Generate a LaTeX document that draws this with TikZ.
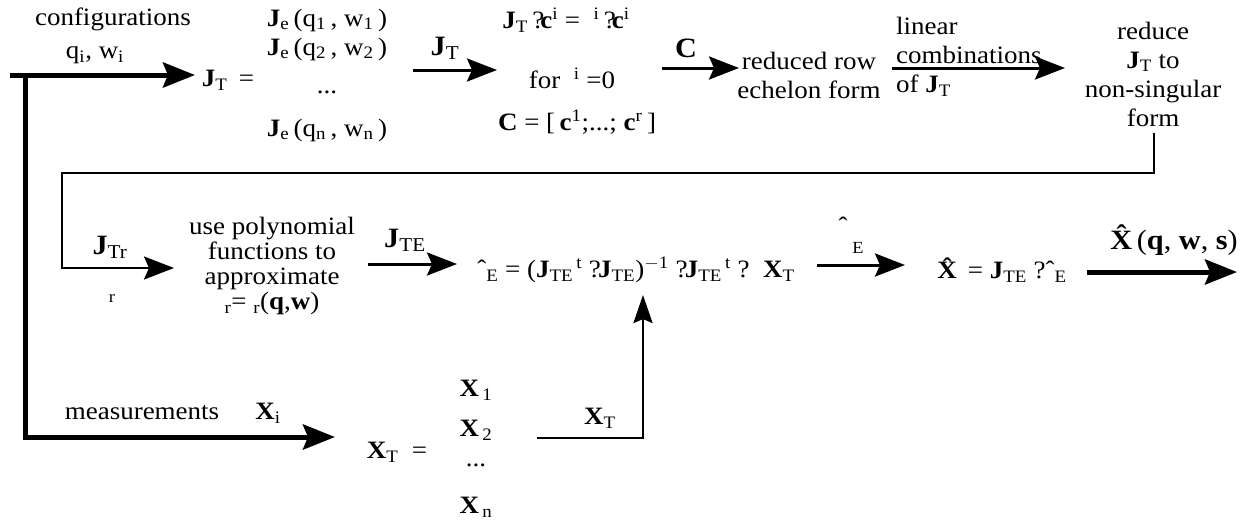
\documentclass[tikz,border=0pt]{standalone}
\usepackage{fontspec}
\setmainfont{Liberation Serif}
\usetikzlibrary{arrows.meta}
\newcommand{\mJ}{\textbf{J}}
\newcommand{\mX}{\textbf{X}}
\newcommand{\lsub}[1]{\textsubscript{#1}}
\newcommand{\lsup}[1]{\textsuperscript{#1}}
\newcommand{\hatc}{ˆ}
\begin{document}
\begin{tikzpicture}[x=1pt,y=1pt,
  txt/.style={inner sep=0pt, font=\fontsize{25}{29}\selectfont, xscale=1.08, align=center},
  bigtxt/.style={txt, font=\fontsize{28}{32}\selectfont},
  smalltxt/.style={txt, font=\fontsize{17}{19}\selectfont},
  thickarr/.style={line width=5pt, -{Stealth[length=32pt,width=25pt,inset=5pt]}},
  arr/.style={line width=3pt, -{Stealth[length=30pt,width=23pt,inset=5pt]}},
  thinline/.style={line width=2.5pt}]
\useasboundingbox (0,0) rectangle (1247,-523);

% ---- top row texts
\node[txt] (conf) at (113,-19) {configurations};
\node[txt] (qw) at (95,-55) {q\lsub{i}, w\lsub{i}};
\node[txt] (JTeq) at (228,-80) {\mJ\lsub{T} \,=};
\node[txt] (Je1) at (327,-20) {\mJ\lsub{e}\,(q\lsub{1}\,, w\lsub{1}\,)};
\node[txt] (Je2) at (327,-49) {\mJ\lsub{e}\,(q\lsub{2}\,, w\lsub{2}\,)};
\node[txt] (Jed) at (327,-92) {...};
\node[txt] (Jen) at (327,-130) {\mJ\lsub{e}\,(q\lsub{n}\,, w\lsub{n}\,)};
\node[bigtxt] (JTlab) at (445,-48) {\mJ\lsub{T}};
\node[txt] (eq1) at (566,-20) {\mJ\lsub{T}\,?\kern-.15em\textbf{c}\lsup{i} = \ \lsup{i}\,?\kern-.15em\textbf{c}\lsup{i}};
\node[txt] (eq2) at (572,-78) {for\ \ \lsup{i} =0};
\node[txt] (eq3) at (577,-122) {\textbf{C} = [\,\textbf{c}\lsup{1};...;\ \textbf{c}\lsup{r}\,]};
\node[bigtxt] (Clab) at (686,-48) {\textbf{C}};
\node[txt] (rref) at (809,-75) {reduced row\\echelon form};
\node[txt, anchor=west, align=left] (lin) at (896,-57) {linear\\combinations\\of \mJ\lsub{T}};
\node[txt] (red) at (1153,-74) {reduce\\\mJ\lsub{T} to\\non-singular\\form};

% ---- middle row texts
\node[bigtxt] (JTr) at (110,-247) {\mJ\lsub{Tr}};
\node[smalltxt] (lr) at (112,-298) {r};
\node[txt, font=\fontsize{25}{25.3}\selectfont] (poly) at (272,-266) {use polynomial\\functions to\\approximate\\\lsub{r}= \lsub{r}(\textbf{q},\textbf{w})};
\node[bigtxt] (JTElab) at (405,-240) {\mJ\lsub{TE}};
\node[txt] (eqE) at (636,-270) {\hatc\lsub{E} = (\mJ\lsub{TE}\lsup{\,t} ?\kern-.1em\mJ\lsub{TE})\lsup{$-$1} ?\kern-.1em\mJ\lsub{TE}\lsup{\,t} ?\ \ \mX\lsub{T}};
\node[txt] (bEhat) at (843,-226) {\hatc};
\node[smalltxt] (bE) at (858,-248) {E};
\node[txt] (Xhat) at (1002,-270) {\textbf{\^X} = \mJ\lsub{TE} ?\hatc\lsub{E}};
\node[bigtxt] (Xout) at (1174,-240) {\textbf{\^X}(\textbf{q}, \textbf{w}, \textbf{s})};

% ---- bottom row texts
\node[txt] (meas) at (142,-413) {measurements};
\node[txt] (Xi) at (268,-413) {\mX\lsub{i}};
\node[txt] (XTeq) at (397,-452) {\mX\lsub{T} \ =};
\node[txt] (X1) at (476,-390) {\mX\lsub{\,1}};
\node[txt] (X2) at (476,-430) {\mX\lsub{\,2}};
\node[txt] (Xd) at (476,-465) {...};
\node[txt] (Xn) at (476,-507) {\mX\lsub{\,n}};
\node[txt] (XTlab) at (600,-418) {\mX\lsub{T}};

% ---- connector points
\coordinate (s0) at (10,-75);
\coordinate (c0) at (25,-75);
\coordinate (t0) at (195,-75);
\coordinate (c1) at (25,-437);
\coordinate (t1) at (335,-437);
\coordinate (a1) at (413,-70);
\coordinate (b1) at (497,-70);
\coordinate (a2) at (662,-68);
\coordinate (b2) at (739,-68);
\coordinate (a3) at (892,-68);
\coordinate (b3) at (1065,-68);
\coordinate (f0) at (1154,-133);
\coordinate (f1) at (1154,-173);
\coordinate (f2) at (62,-173);
\coordinate (f3) at (62,-268);
\coordinate (f4) at (174,-268);
\coordinate (a5) at (368,-264);
\coordinate (b5) at (457,-264);
\coordinate (a6) at (817,-265);
\coordinate (b6) at (905,-265);
\coordinate (a7) at (1087,-272);
\coordinate (b7) at (1237,-272);
\coordinate (a8) at (537,-438);
\coordinate (m8) at (643,-438);
\coordinate (b8) at (643,-295);

% ---- connectors
\draw[thickarr] (s0) -- (t0);
\draw[thickarr, line join=miter] (c0) -- (c1) -- (t1);
\draw[arr] (a1) -- (b1);
\draw[arr] (a2) -- (b2);
\draw[arr] (a3) -- (b3);
\draw[arr, line width=2.5pt] (f0) -- (f1) -- (f2) -- (f3) -- (f4);
\draw[arr] (a5) -- (b5);
\draw[arr] (a6) -- (b6);
\draw[thickarr] (a7) -- (b7);
\draw[arr, line width=2.5pt, -{Stealth[length=28pt,width=19pt,inset=4pt]}] (a8) -- (m8) -- (b8);
\end{tikzpicture}
\end{document}
